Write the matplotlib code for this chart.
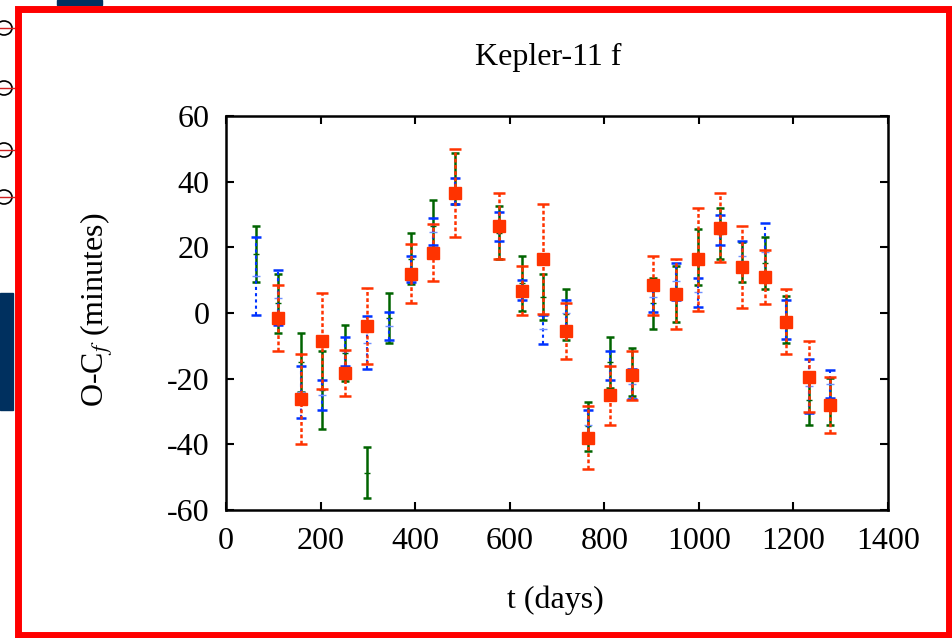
import matplotlib

matplotlib.use("Agg")
import matplotlib.pyplot as plt
from matplotlib.patches import Rectangle, Ellipse

plt.rcParams["font.family"] = ["Liberation Serif", "DejaVu Serif"]
plt.rcParams["mathtext.fontset"] = "stix"
plt.rcParams["axes.unicode_minus"] = False

# Transit epochs (days) and O-C residuals (minutes) for the three fits.
t_days = [63, 110, 158, 204, 252, 298, 345, 391, 438, 485, 578, 625, 671,
          718, 765, 812, 858, 904, 951, 998, 1045, 1092, 1139, 1185, 1232, 1278]

green_oc = [18, 3, -15, -23.4, -12.2, -48.6, -1.5, 16.5, 26.5, 41, 24.5, 9, 5,
            -0.4, -34.5, -15, -18, 3, 5.8, 17, 24.2, 15.5, 15.2, -2, -26.5, -27]
green_err = [8.5, 9, 9, 11.8, 8.4, 7.8, 7.7, 7.8, 8, 7.8, 8, 8.4, 7,
             7.8, 7.4, 7.8, 7.3, 7.8, 8.4, 8.5, 7.9, 6, 7.8, 7.2, 7.6, 7.2]

blue_oc = [11.3, 4.6, -24, -25, -11.7, -9, -4, 13.5, 24.8, 37.2, 26.4, 7, -5,
           0, -34, -16, -21.7, 5, 9.6, 6.3, 25.3, 17.5, 18.7, -2, -22.3, -21.6]
blue_err = [11.8, 8.4, 8, 4.5, 4.5, 8, 4.2, 4, 4, 3.9, 4.5, 3, 4.4,
            4, 4.6, 4.5, 4.5, 4.7, 5.5, 4.5, 4.5, 4.5, 8.7, 6, 8.3, 4.2]

# The red fit has no point at the first epoch nor at t = 345 d.
red_t = [110, 158, 204, 252, 298, 391, 438, 485, 578, 625, 671, 718, 765,
         812, 858, 904, 951, 998, 1045, 1092, 1139, 1185, 1232, 1278]
red_oc = [-1.5, -26.2, -8.5, -18.3, -4, 12, 18.4, 36.6, 26.5, 6.8, 16.4, -5.5,
          -38, -25, -19, 8.5, 5.7, 16.3, 26, 14, 11, -2.6, -19.4, -28]
red_err = [10, 13.6, 14.5, 7, 11.5, 9, 8.7, 13.5, 10.1, 7.4, 16.8, 8.5,
           9.6, 9, 7.4, 9, 10.6, 15.8, 10.5, 12.4, 8.3, 10, 10.8, 8.5]

x_ticks = [0, 200, 400, 600, 800, 1000, 1200, 1400]
y_ticks = [-60, -40, -20, 0, 20, 40, 60]

W, H = 953, 638
fig = plt.figure(figsize=(W / 100, H / 100), dpi=100)
ax = fig.add_axes([226 / W, 1 - 510 / H, (888 - 226) / W, (510 - 116) / H])

GREEN = "#006400"
BLUE = "#0033ff"
RED = "#ff3300"

ax.errorbar(t_days, green_oc, yerr=green_err, fmt="_", color=GREEN,
            ecolor=GREEN, elinewidth=1.8, capsize=3, capthick=1.8,
            markersize=5, zorder=2)

eb = ax.errorbar(t_days, blue_oc, yerr=blue_err, fmt="_", color="#7090ff",
                 ecolor=BLUE, elinewidth=1.5, capsize=3.5, capthick=1.8,
                 markersize=6, zorder=3)
eb[2][0].set_linestyle((0, (1.5, 1.5)))

eb = ax.errorbar(red_t, red_oc, yerr=red_err, fmt="s", color=RED,
                 ecolor=RED, elinewidth=1.8, capsize=4, capthick=1.8,
                 markersize=8, zorder=4)
eb[2][0].set_linestyle((0, (1.5, 1.0)))

ax.set_xlim(0, 1400)
ax.set_ylim(-60, 60)
ax.set_xticks(x_ticks)
ax.set_yticks(y_ticks)
ax.tick_params(direction="in", length=6, width=1.5, top=True, right=True,
               labelsize=23, pad=12)
for s in ax.spines.values():
    s.set_linewidth(1.8)

fig.text(548 / W, 1 - 57 / H, "Kepler-11 f", ha="center", va="center",
         fontsize=23)
fig.text(97 / W, 1 - 310 / H, "O-C$_f$ (minutes)", ha="center", va="center",
         rotation=90, fontsize=23)
fig.text(555 / W, 1 - 600 / H, "t (days)", ha="center", va="center",
         fontsize=23)

# Page furniture around the panel: neighbouring-figure scraps and red frame.
fig.patches.append(Rectangle((0, 1 - 410 / H), 13 / W, 117 / H,
                             transform=fig.transFigure, color="#00305f",
                             zorder=0))
fig.patches.append(Rectangle((57 / W, 1 - 5 / H), 45 / W, 5 / H,
                             transform=fig.transFigure, color="#00305f",
                             zorder=0))
for yc in [28, 88, 150, 197]:
    fig.patches.append(Ellipse((4 / W, 1 - yc / H), 16 / W, 14 / H,
                               transform=fig.transFigure, fill=False,
                               edgecolor="black", linewidth=1.2, zorder=0))
    fig.lines.append(plt.Line2D([0, 14 / W], [1 - yc / H, 1 - yc / H],
                                transform=fig.transFigure, color="#d02020",
                                linewidth=1.0))
fig.patches.append(Rectangle((18 / W, 3 / H), (W - 22) / W, (H - 12) / H,
                             transform=fig.transFigure, fill=False,
                             edgecolor="#ff0000", linewidth=5, zorder=5))

fig.savefig("out.png", dpi=100)
